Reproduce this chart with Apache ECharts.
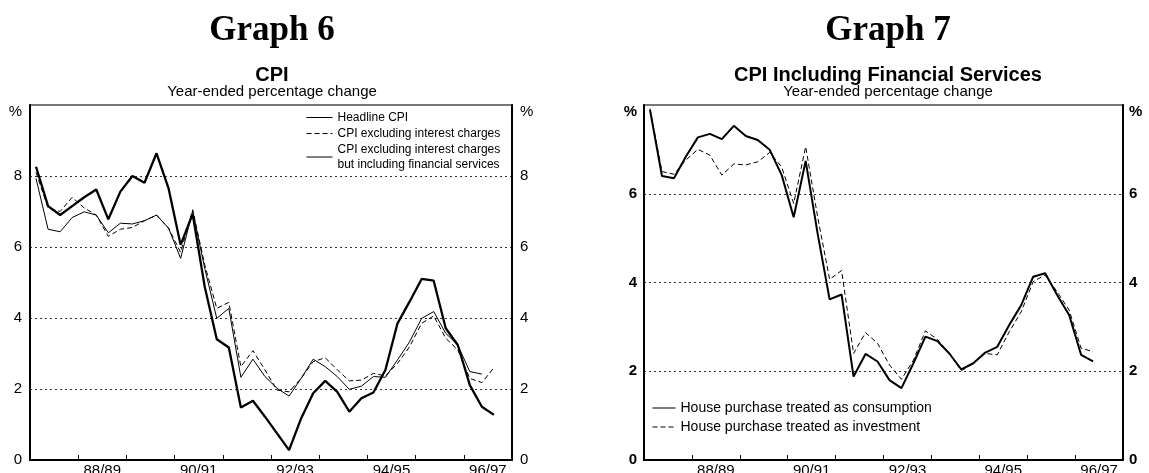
<!DOCTYPE html>
<html>
<head>
<meta charset="utf-8">
<script src="https://cdn.jsdelivr.net/npm/echarts@6/dist/echarts.min.js"></script>
<style>
    html, body {margin: 0; padding: 0; background: #fff;}
    #chart {width: 1149px; height: 473px;}
</style>
</head>
<body>
<div id="chart"></div>
<script>
// quarters Sep-87 .. Jun-97 (40 bands), fiscal years for the axis labels
var quarters = [
    'Sep-87', 'Dec-87', 'Mar-88', 'Jun-88', 'Sep-88', 'Dec-88', 'Mar-89', 'Jun-89',
    'Sep-89', 'Dec-89', 'Mar-90', 'Jun-90', 'Sep-90', 'Dec-90', 'Mar-91', 'Jun-91',
    'Sep-91', 'Dec-91', 'Mar-92', 'Jun-92', 'Sep-92', 'Dec-92', 'Mar-93', 'Jun-93',
    'Sep-93', 'Dec-93', 'Mar-94', 'Jun-94', 'Sep-94', 'Dec-94', 'Mar-95', 'Jun-95',
    'Sep-95', 'Dec-95', 'Mar-96', 'Jun-96', 'Sep-96', 'Dec-96', 'Mar-97', 'Jun-97'
];
var fiscalYears = ['87/88', '88/89', '89/90', '90/91', '91/92', '92/93', '93/94', '94/95', '95/96', '96/97'];

// Graph 6 - CPI
var headlineCpi = [8.26, 7.15, 6.90, 7.15, 7.40, 7.62, 6.78, 7.56, 8.00, 7.81,
    8.64, 7.65, 6.06, 6.93, 4.88, 3.40, 3.17, 1.48, 1.67, 1.22,
    0.75, 0.28, 1.17, 1.88, 2.23, 1.92, 1.36, 1.74, 1.90, 2.54,
    3.85, 4.46, 5.10, 5.05, 3.71, 3.24, 2.11, 1.50, 1.27];
var cpiExInterest = [8.10, 7.10, 7.00, 7.40, 7.10, 6.90, 6.30, 6.50, 6.55, 6.74,
    6.90, 6.53, 5.85, 7.05, 5.50, 4.27, 4.44, 2.63, 3.08, 2.54,
    1.97, 1.92, 2.30, 2.77, 2.88, 2.54, 2.23, 2.25, 2.44, 2.37,
    2.72, 3.19, 3.85, 4.06, 3.43, 3.10, 2.30, 2.18, 2.60];
var cpiExInterestFin = [7.93, 6.50, 6.43, 6.83, 6.99, 6.90, 6.40, 6.67, 6.65, 6.74,
    6.90, 6.53, 5.68, 7.02, 5.40, 3.99, 4.27, 2.33, 2.84, 2.35,
    2.02, 1.80, 2.30, 2.84, 2.63, 2.35, 1.99, 2.08, 2.35, 2.33,
    2.82, 3.33, 3.99, 4.18, 3.57, 3.24, 2.49, 2.42];

// Graph 7 - CPI including financial services
var houseConsumption = [7.89, 6.40, 6.35, 6.84, 7.27, 7.35, 7.23, 7.53, 7.30, 7.21,
    6.99, 6.42, 5.47, 6.74, 5.10, 3.62, 3.73, 1.88, 2.39, 2.22,
    1.80, 1.62, 2.18, 2.78, 2.68, 2.40, 2.04, 2.18, 2.42, 2.55,
    3.04, 3.49, 4.13, 4.21, 3.72, 3.27, 2.37, 2.22];
var houseInvestment = [7.92, 6.50, 6.44, 6.76, 7.00, 6.87, 6.42, 6.67, 6.65, 6.72,
    6.93, 6.60, 5.78, 7.06, 5.48, 4.07, 4.27, 2.40, 2.87, 2.63,
    2.14, 1.82, 2.25, 2.91, 2.72, 2.40, 2.01, 2.18, 2.40, 2.37,
    2.89, 3.34, 4.02, 4.17, 3.79, 3.38, 2.52, 2.44];

var SANS = 'Liberation Sans, Arial, sans-serif';
var SERIF = 'Liberation Serif, Times New Roman, serif';

function makeTitles(center, heading, name) {
    return [
        {text: heading, left: center, top: 13, textAlign: 'center', padding: 0,
            textStyle: {fontFamily: SERIF, fontWeight: 'bold', fontSize: 35, color: '#000'}},
        {text: name, left: center, top: 65, textAlign: 'center', padding: 0,
            textStyle: {fontFamily: SANS, fontWeight: 'bold', fontSize: 20, color: '#000'}},
        {text: 'Year-ended percentage change', left: center, top: 84, textAlign: 'center', padding: 0,
            textStyle: {fontFamily: SANS, fontWeight: 'normal', fontSize: 15, color: '#000'}}
    ];
}

function makeXAxis(gridIndex) {
    return {
        type: 'category',
        gridIndex: gridIndex,
        data: quarters,
        boundaryGap: true,
        axisLine: {lineStyle: {color: '#000', width: 2}},
        axisTick: {show: true, inside: true, length: 5, interval: 3, lineStyle: {color: '#000', width: 1}},
        axisLabel: {
            // one label per second fiscal year, centred on the year
            interval: function (index) {
                return index % 8 === 5;
            },
            formatter: function (value, index) {
                return '{y|' + fiscalYears[Math.floor(index / 4)] + '}';
            },
            margin: 3,
            rich: {y: {fontFamily: SANS, fontSize: 15, color: '#000', padding: [0, 0, 0, 12]}}
        },
        splitLine: {show: false}
    };
}

function makeYAxis(gridIndex, position, max, bold, margin, grid) {
    var weight = bold ? 'bold' : 'normal';
    return {
        type: 'value',
        gridIndex: gridIndex,
        position: position,
        min: 0,
        max: max,
        interval: 2,
        axisLine: {show: true, lineStyle: {color: '#000', width: 2}},
        axisTick: {show: false},
        axisLabel: {
            margin: margin,
            fontFamily: SANS,
            fontSize: 15,
            fontWeight: weight,
            color: '#000',
            formatter: function (v) {
                return v === max ? '{p|%}' : String(v);
            },
            rich: {p: {fontFamily: SANS, fontSize: 15, fontWeight: weight, color: '#000', padding: [14, 0, 0, 0]}}
        },
        splitLine: {
            show: grid,
            showMinLine: false,
            showMaxLine: false,
            lineStyle: {color: '#333', width: 1, type: [2, 3]}
        }
    };
}

function lineSeries(name, xIndex, yIndex, data, width, dashed) {
    return {
        name: name,
        type: 'line',
        xAxisIndex: xIndex,
        yAxisIndex: yIndex,
        data: data,
        color: '#000',
        symbol: 'none',
        silent: true,
        lineStyle: {color: '#000', width: width, type: dashed ? [5, 3] : 'solid'},
        z: dashed ? 3 : 2
    };
}

var chart = echarts.init(document.getElementById('chart'), null, {renderer: 'canvas'});
var option = {
    animation: false,
    backgroundColor: '#fff',
    title: makeTitles(272, 'Graph 6', 'CPI').concat(makeTitles(888, 'Graph 7', 'CPI Including Financial Services')),
    grid: [
        {left: 30, right: 637, top: 105, bottom: 13, outerBoundsMode: 'none',
            show: true, borderColor: '#777', borderWidth: 2},
        {left: 644, right: 26, top: 105, bottom: 13, outerBoundsMode: 'none',
            show: true, borderColor: '#777', borderWidth: 2}
    ],
    legend: [
        {
            orient: 'vertical', left: 306, top: 110, padding: 0,
            itemWidth: 26, itemHeight: 10, itemGap: 1, selectedMode: false,
            itemStyle: {color: 'transparent', borderWidth: 0},
            lineStyle: {width: 1, color: '#000'},
            textStyle: {fontFamily: SANS, fontSize: 12, lineHeight: 15, color: '#000'},
            formatter: function (name) {
                return name === 'CPI excluding interest charges but including financial services'
                    ? 'CPI excluding interest charges\nbut including financial services' : name;
            },
            data: ['Headline CPI', 'CPI excluding interest charges',
                'CPI excluding interest charges but including financial services']
        },
        {
            orient: 'vertical', left: 652, top: 399, padding: 0,
            itemWidth: 23, itemHeight: 10, itemGap: 1, selectedMode: false,
            itemStyle: {color: 'transparent', borderWidth: 0},
            lineStyle: {width: 1, color: '#000'},
            textStyle: {fontFamily: SANS, fontSize: 14, lineHeight: 18, color: '#000'},
            data: ['House purchase treated as consumption', 'House purchase treated as investment']
        }
    ],
    xAxis: [makeXAxis(0), makeXAxis(1)],
    yAxis: [
        makeYAxis(0, 'left', 10, false, 8, true),
        makeYAxis(0, 'right', 10, false, 8, false),
        makeYAxis(1, 'left', 8, true, 7, true),
        makeYAxis(1, 'right', 8, true, 6, false)
    ],
    series: [
        lineSeries('Headline CPI', 0, 0, headlineCpi, 2.3, false),
        lineSeries('CPI excluding interest charges', 0, 0, cpiExInterest, 1, true),
        lineSeries('CPI excluding interest charges but including financial services', 0, 0, cpiExInterestFin, 1, false),
        lineSeries('House purchase treated as consumption', 1, 2, houseConsumption, 2, false),
        lineSeries('House purchase treated as investment', 1, 2, houseInvestment, 1, true)
    ]
};
chart.setOption(option);
</script>
</body>
</html>
